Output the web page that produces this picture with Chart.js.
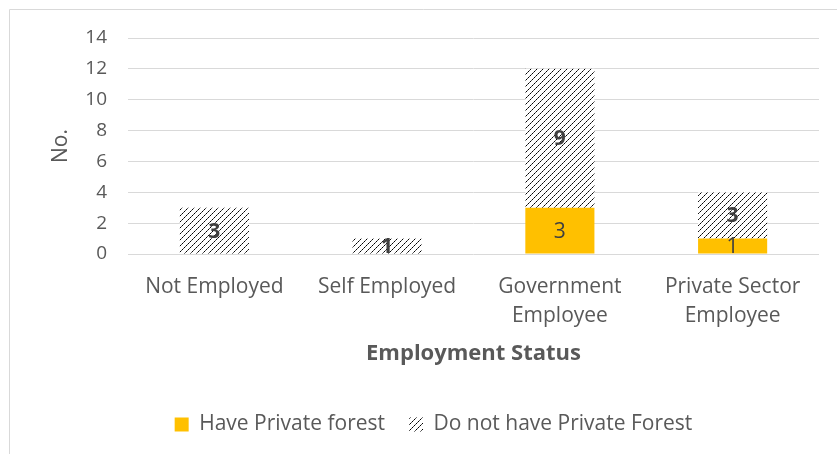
<!DOCTYPE html>
<html>
<head>
<meta charset="utf-8">
<script src="https://cdn.jsdelivr.net/npm/chart.js@4/dist/chart.umd.min.js"></script>
<style>
  html, body { margin: 0; padding: 0; background: #fff; }
  #wrap { width: 837px; height: 454px; position: relative; }
</style>
</head>
<body>
<div id="wrap"><canvas id="empChart"></canvas></div>
<script>
var categories = [['Not Employed'], ['Self Employed'], ['Government', 'Employee'], ['Private Sector', 'Employee']];
var haveForest = [0, 0, 3, 1];
var noForest = [3, 1, 9, 3];
var yMax = 14;
var yStep = 2;

var FONT = '"Open Sans", sans-serif';

// diagonal dashed hatch, black on white
function hatchPattern() {
    var c = document.createElement('canvas');
    c.width = 6; c.height = 6;
    var g = c.getContext('2d');
    g.fillStyle = '#fff';
    g.fillRect(0, 0, 6, 6);
    for (var i = 0; i < 6; i++) {
        g.fillStyle = (i % 2 == 0) ? '#000' : '#555';
        g.fillRect(i, 5 - i, 1, 1);
    }
    return g.createPattern(c, 'repeat');
}

// thin outer frame
var framePlugin = {
    id: 'frame',
    beforeDraw: function(chart) {
        var ctx = chart.ctx;
        ctx.save();
        ctx.strokeStyle = '#d9d9d9';
        ctx.lineWidth = 1;
        ctx.beginPath();
        ctx.moveTo(9.5, chart.height);
        ctx.lineTo(9.5, 9.5);
        ctx.lineTo(chart.width, 9.5);
        ctx.stroke();
        ctx.restore();
    }
};

// value labels in the middle of each segment
var valuePlugin = {
    id: 'values',
    afterDatasetsDraw: function(chart) {
        var ctx = chart.ctx;
        ctx.save();
        ctx.textAlign = 'center';
        ctx.textBaseline = 'middle';
        ctx.fillStyle = '#404040';
        chart.data.datasets.forEach(function(ds, di) {
            var meta = chart.getDatasetMeta(di);
            ctx.font = (di == 1 ? 'bold ' : '') + '21px ' + FONT;
            meta.data.forEach(function(bar, i) {
                var v = ds.data[i];
                if (!v) return;
                var p = bar.getProps(['x', 'y', 'base'], true);
                ctx.fillText(String(v), p.x, (p.y + p.base) / 2 + 1);
            });
        });
        ctx.restore();
    }
};

var canvasElement = document.getElementById('empChart');
var configure = {
    type: 'bar',
    data: {
        labels: categories,
        datasets: [{
            label: 'Have Private forest',
            backgroundColor: '#FFC000',
            data: haveForest
        }, {
            label: 'Do not have Private Forest',
            backgroundColor: hatchPattern(),
            data: noForest
        }]
    },
    options: {
        responsive: true,
        maintainAspectRatio: false,
        animation: false,
        categoryPercentage: 1,
        barPercentage: 0.4,
        layout: { padding: { left: 48, top: 38, right: 18, bottom: 9 } },
        plugins: {
            tooltip: { enabled: false },
            legend: {
                position: 'bottom',
                labels: {
                    color: '#595959',
                    font: { family: FONT, size: 21 },
                    boxWidth: 14,
                    boxHeight: 14,
                    padding: 24
                }
            }
        },
        scales: {
            x: {
                stacked: true,
                grid: { display: false },
                border: { display: false },
                ticks: {
                    color: '#595959',
                    font: { family: FONT, size: 21, lineHeight: 1.4 },
                    padding: 10,
                    maxRotation: 0
                },
                title: {
                    display: true,
                    text: 'Employment Status',
                    color: '#595959',
                    font: { family: FONT, size: 22, weight: 'bold' },
                    padding: { top: 0, bottom: 23 }
                },
                afterFit: function(scale) { scale.height = 136; }
            },
            y: {
                stacked: true,
                min: 0,
                max: yMax,
                border: { display: false },
                grid: { color: '#d9d9d9', drawTicks: false },
                ticks: {
                    stepSize: yStep,
                    color: '#595959',
                    font: { family: FONT, size: 19 },
                    padding: 21
                },
                title: {
                    display: true,
                    text: 'No.',
                    color: '#595959',
                    font: { family: FONT, size: 21 },
                    padding: { top: 0, bottom: 0 }
                },
                afterFit: function(scale) { scale.width = 80; }
            }
        }
    },
    plugins: [framePlugin, valuePlugin]
};

var reportChart = new Chart(canvasElement, configure);
</script>
</body>
</html>
